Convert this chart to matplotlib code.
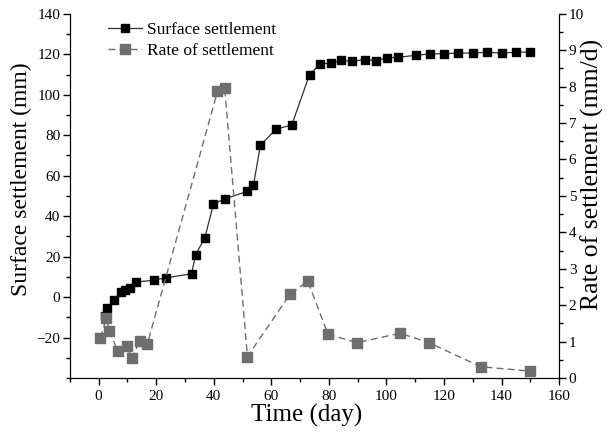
import numpy as np
import matplotlib
matplotlib.use('Agg')
import matplotlib.pyplot as plt
from matplotlib.ticker import MultipleLocator

plt.rcParams['font.family'] = ['Liberation Serif', 'DejaVu Serif']

# surface settlement (mm) vs time (day)
day_s = [2.3, 3.0, 5.2, 7.7, 9.3, 11.0, 13.1, 19.3, 23.3, 32.3, 33.7, 36.9, 39.9,
         43.8, 51.7, 53.8, 56.2, 61.6, 67.1, 73.3, 77.0, 80.8, 84.1, 88.2, 92.5,
         96.3, 100.2, 103.9, 110.3, 115.1, 120.0, 125.0, 130.0, 134.9, 140.0,
         145.0, 150.0]
settle = [-9.4, -5.6, -1.5, 2.6, 3.3, 4.3, 7.4, 8.4, 9.5, 11.5, 21.0, 29.3, 46.0,
          48.5, 52.3, 55.3, 75.0, 83.0, 85.0, 110.0, 115.2, 115.7, 117.0, 116.5,
          117.4, 116.9, 118.2, 118.5, 119.5, 120.2, 120.3, 120.6, 120.6, 121.0,
          120.6, 121.0, 121.1]

# rate of settlement (mm/d)
day_r = [0.6, 2.7, 3.7, 6.6, 9.7, 11.6, 14.2, 16.9, 41.3, 43.8, 51.7, 66.6,
         72.7, 79.7, 89.9, 104.7, 114.8, 132.8, 149.8]
rate = [1.1, 1.64, 1.29, 0.75, 0.88, 0.54, 1.02, 0.93, 7.87, 7.96, 0.59, 2.31,
        2.66, 1.2, 0.97, 1.23, 0.97, 0.31, 0.19]

fig = plt.figure(figsize=(6.13, 4.32), dpi=100)
ax1 = fig.add_axes([0.114, 0.125, 0.798, 0.843])
ax2 = ax1.twinx()

gray = '#6e6e6e'
l1, = ax1.plot(day_s, settle, '-', color='#303030', lw=0.9, marker='s',
               ms=5.5, mfc='black', mec='black', label='Surface settlement')
l2, = ax2.plot(day_r, rate, '--', color=gray, lw=1.0, marker='s', ms=7,
               mfc=gray, mec=gray, dashes=(5, 3), label='Rate of settlement')

ax1.set_xlim(-10, 160)
ax1.set_ylim(-40, 140)
ax2.set_ylim(0, 10)

ax1.xaxis.set_minor_locator(MultipleLocator(10))
ax1.yaxis.set_minor_locator(MultipleLocator(10))
ax2.yaxis.set_major_locator(MultipleLocator(1))
ax2.yaxis.set_minor_locator(MultipleLocator(0.5))

ax1.set_xticks(np.arange(0, 161, 20))
ax1.set_yticks(np.arange(-20, 141, 20))

for ax in (ax1, ax2):
    ax.spines['top'].set_visible(False)
    ax.tick_params(which='both', direction='out', labelsize=11, width=1.0)
    ax.tick_params(which='major', length=5)
    ax.tick_params(which='minor', length=3)
ax1.tick_params(axis='y', pad=2)
ax2.tick_params(axis='y', pad=2)

ax1.set_xlabel('Time (day)', fontsize=18)
ax1.set_ylabel('Surface settlement (mm)', fontsize=17)
ax2.set_ylabel('Rate of settlement (mm/d)', fontsize=18.5, rotation=90)
ax1.xaxis.set_label_coords(0.483, -0.072)
ax1.yaxis.set_label_coords(-0.078, 0.547)
ax2.yaxis.set_label_coords(1.044, 0.56)

ax1.legend([l1, l2], ['Surface settlement', 'Rate of settlement'],
           loc='upper left', bbox_to_anchor=(0.045, 1.02), frameon=False,
           fontsize=12.5, handlelength=2.0, handletextpad=0.3,
           labelspacing=0.25)

fig.savefig('out.png', dpi=100)
